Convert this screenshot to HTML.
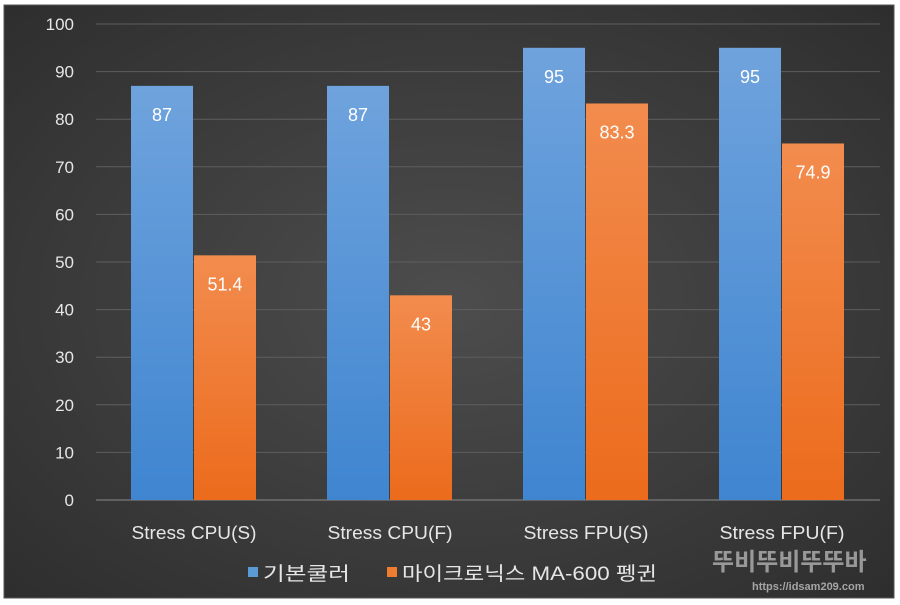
<!DOCTYPE html>
<html><head><meta charset="utf-8"><style>
body{margin:0;background:#fff;width:900px;height:605px;overflow:hidden}
svg{display:block}
text{font-family:"Liberation Sans","Noto Sans CJK KR",sans-serif}
</style></head><body>
<svg id="chart" width="900" height="605">
<defs>
<radialGradient id="bg" cx="50%" cy="50%" r="70%"><stop offset="0" stop-color="#4d4d4d"/><stop offset="1" stop-color="#2e2e2e"/></radialGradient>
<linearGradient id="gb" x1="0" y1="0" x2="0" y2="1"><stop offset="0" stop-color="#6fa3dd"/><stop offset="1" stop-color="#3f85d0"/></linearGradient>
<linearGradient id="go" x1="0" y1="0" x2="0" y2="1"><stop offset="0" stop-color="#f28c4e"/><stop offset="1" stop-color="#ec6b1c"/></linearGradient>
</defs>
<rect x="4" y="5" width="890" height="593" fill="url(#bg)" stroke="#555"/>
<g id="grid"></g><g id="bars"></g><g id="labels"></g>
<g>
<rect x="248" y="567" width="10" height="10" fill="#5b9bd5"/>
<text x="263" y="580" fill="#e6e6e6" font-size="19" textLength="87" lengthAdjust="spacingAndGlyphs">기본쿨러</text>
<rect x="387" y="567" width="10" height="10" fill="#ed7d31"/>
<text x="402" y="580" fill="#e6e6e6" font-size="19" textLength="255" lengthAdjust="spacingAndGlyphs">마이크로닉스 MA-600 펭귄</text>
</g>
<g opacity="0.75">
<text x="712" y="570" fill="#bbb" font-size="24" font-weight="bold">뚜비뚜비뚜뚜바</text>
<text x="752" y="590" fill="#ccc" font-size="11" font-weight="bold">https://idsam209.com</text>
</g>
</svg>
<script>
const categories=["Stress CPU(S)","Stress CPU(F)","Stress FPU(S)","Stress FPU(F)"];
const defaultCooler=[87,87,95,95];
const penguin=[51.4,43,83.3,74.9];
const ticks=[0,10,20,30,40,50,60,70,80,90,100];
const NS="http://www.w3.org/2000/svg";
const X0=96,X1=880,Y0=500,Y1=24;
const y=v=>Y0-(v/100)*(Y0-Y1);
const cw=(X1-X0)/categories.length;
const xc=i=>X0+cw*(i+0.5);
function mk(t,a,p){const e=document.createElementNS(NS,t);for(const k in a)e.setAttribute(k,a[k]);p.appendChild(e);return e;}
const grid=document.getElementById('grid'),bars=document.getElementById('bars'),labels=document.getElementById('labels');
ticks.forEach(t=>{
 const l=mk('line',{x1:X0,x2:X1,y1:y(t),y2:y(t),stroke:t===0?'#8a8a8a':'#5e5e5e','stroke-width':1},grid);
 
 
 const tx=mk('text',{x:74,y:y(t)+6,'text-anchor':'end',fill:'#e6e6e6','font-size':17},grid);
 tx.textContent=t;
 
 
});
const bw=62;
categories.forEach((c,i)=>{
 [[defaultCooler,'url(#gb)',-bw-1,'default'],[penguin,'url(#go)',0,'penguin']].forEach(([arr,f,off,nm])=>{
  const v=arr[i];
  const r=mk('rect',{x:xc(i)+off,y:y(v),width:bw,height:Y0-y(v),fill:f},bars);
  
  
  const t=mk('text',{x:xc(i)+off+bw/2,y:y(v)+35,'text-anchor':'middle',fill:'#fff','font-size':18},labels);
  t.textContent=v;
  
  
 });
 const ct=mk('text',{x:xc(i),y:539,'text-anchor':'middle',fill:'#e6e6e6','font-size':18,textLength:125,lengthAdjust:'spacingAndGlyphs'},labels);
 ct.textContent=c;
 
 
});
</script>
</body></html>
